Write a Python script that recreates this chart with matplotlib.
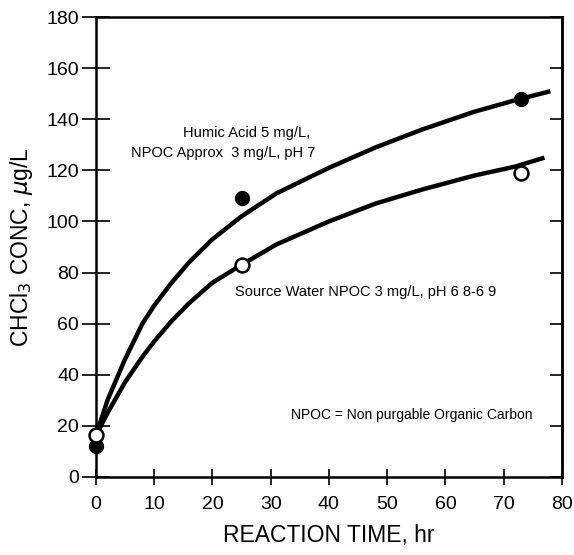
import matplotlib
matplotlib.use("Agg")
import matplotlib.pyplot as plt

plt.rcParams["font.family"] = ["Liberation Sans", "DejaVu Sans"]

# Measured points
humic_x = [0, 25, 73]
humic_y = [12, 109, 148]
source_x = [0, 25, 73]
source_y = [16.5, 83, 119]

# Fitted curves
humic_curve_x = [0, 2, 5, 8, 10, 13, 16, 20, 25, 31, 40, 48, 56, 65, 72, 78]
humic_curve_y = [16, 30, 46, 60, 67, 76, 84, 93, 102, 111, 121, 129, 136, 143, 147.5, 151]
source_curve_x = [0, 2, 5, 8, 10, 13, 16, 20, 25, 31, 40, 48, 56, 65, 72, 77]
source_curve_y = [16, 25, 37, 47, 53, 61, 68, 76, 83, 91, 100, 107, 112.5, 118, 121.5, 125]

fig = plt.figure(figsize=(5.74, 5.55), dpi=100)
ax = fig.add_axes([0.167, 0.141, 0.812, 0.828])

ax.plot(humic_curve_x, humic_curve_y, color="black", lw=3.2, solid_capstyle="butt")
ax.plot(source_curve_x, source_curve_y, color="black", lw=3.2, solid_capstyle="butt")
ax.plot(humic_x, humic_y, "o", color="black", ms=10, zorder=3, clip_on=False)
ax.plot(source_x, source_y, "o", mfc="white", mec="black", mew=1.8, ms=10, zorder=3,
        clip_on=False)

ax.set_xlim(0, 80)
ax.set_ylim(0, 180)
ax.set_xticks(range(0, 81, 10))
ax.set_yticks(range(0, 181, 20))
ax.tick_params(axis="y", direction="inout", length=20, width=1.2, labelsize=14, pad=2)
ax.tick_params(axis="x", direction="inout", length=12, width=1.2, labelsize=14, pad=8)

# right side: inward ticks only
right = ax.secondary_yaxis("right")
right.set_yticks(range(0, 181, 20))
right.tick_params(direction="in", length=9, width=1.2, labelright=False)
right.spines["right"].set_linewidth(1.8)

for side in ["left", "bottom", "right", "top"]:
    ax.spines[side].set_linewidth(1.8)

ax.set_xlabel("REACTION TIME, hr", fontsize=16.5, labelpad=8)
ax.set_ylabel(r"CHCl$_3$ CONC, $\mu$g/L", fontsize=16.5, labelpad=8)

ax.text(25.8, 134.6, "Humic Acid 5 mg/L,", fontsize=10.5, ha="center", va="center")
ax.text(37.7, 126.8, "NPOC Approx  3 mg/L, pH 7", fontsize=10.5, ha="right", va="center")
ax.text(23.8, 72.4, "Source Water NPOC 3 mg/L, pH 6 8-6 9", fontsize=10.5, ha="left",
        va="center")
ax.text(75, 24.3, "NPOC = Non purgable Organic Carbon", fontsize=10, ha="right", va="center")

fig.savefig("out.png", dpi=100)
